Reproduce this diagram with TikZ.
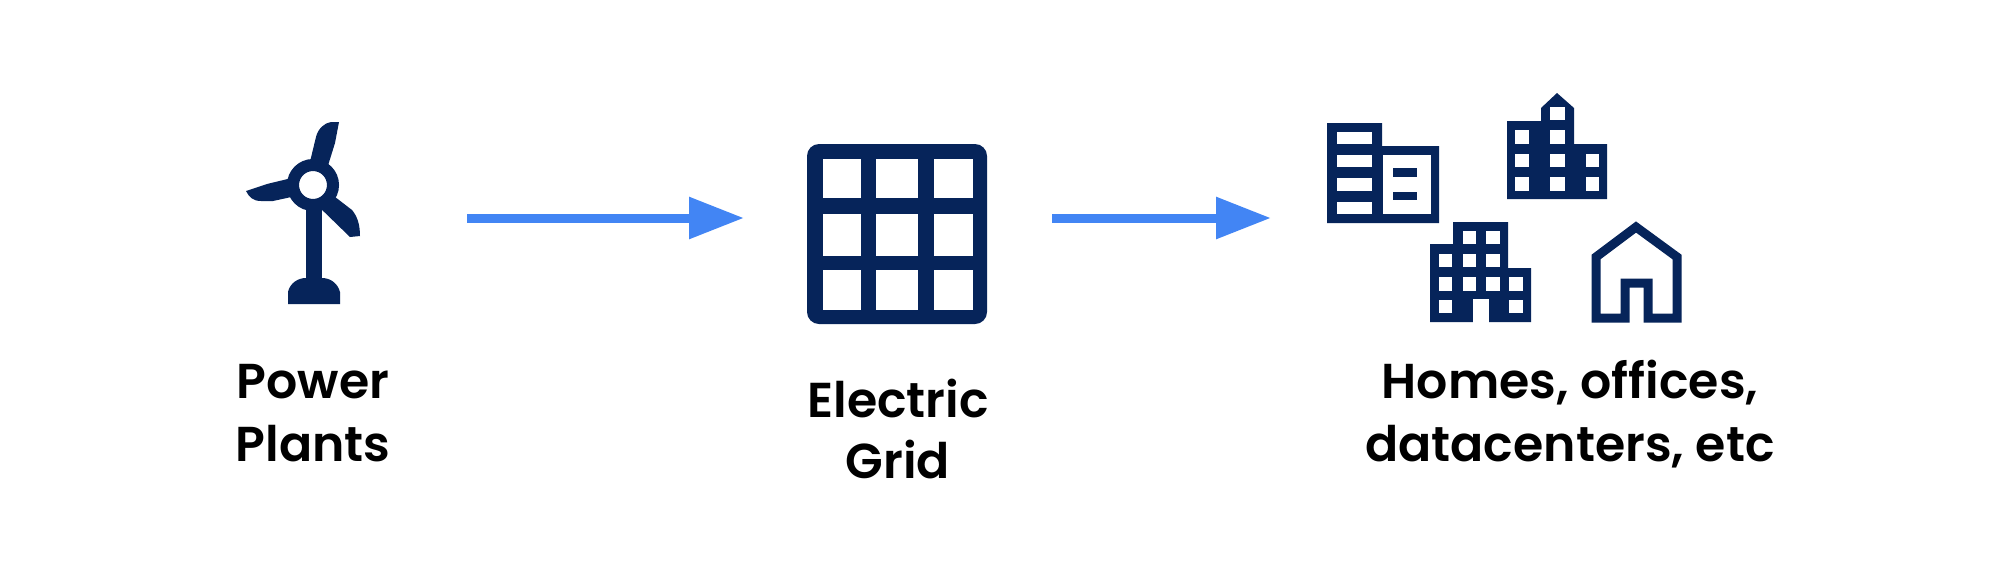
\documentclass[tikz,border=0pt]{standalone}
\usepackage{fontspec}
\setmainfont{Poppins SemiBold}
\usetikzlibrary{arrows.meta}
\definecolor{navy}{HTML}{06245A}
\definecolor{arrowblue}{HTML}{4285F4}
\tikzset{
  x=1pt,y=-1pt,
  flow/.style={draw=arrowblue,line width=9pt,-{Triangle[length=55pt,width=40pt]}},
  lab/.style={font=\fontsize{49}{63}\selectfont,text=black,align=center,inner sep=0pt,anchor=base},
  ln/.style={draw=navy,line width=9pt,line join=miter},
  hole/.style={fill=white}
}
\newcommand{\wnd}[4]{\fill[hole] (#1+0.6,#2+0.6) rectangle (#3-0.6,#4-0.6);}
\begin{document}
\begin{tikzpicture}
\useasboundingbox[fill=white] (0,0) rectangle (2000,574);
% Turbine
\coordinate (hub) at (313,185);
\fill[navy] (306,200) rectangle (322,292);
\fill[navy] (288,304) -- (288,292) .. controls (290,283) and (298,278) .. (306,278) -- (322,278) .. controls (331,278) and (338,284) .. (340,292) -- (340,304) -- cycle;
\fill[navy] (308,170) -- (316,137) .. controls (318,129) and (324,123) .. (331,122) -- (339,122) -- (335,143) -- (326,172) -- cycle;
\fill[navy] (296,177) -- (267,184) -- (246,191) .. controls (249,197) and (253,201) .. (261,201) -- (273,201) -- (296,196) -- cycle;
\fill[navy] (326,190) -- (352,210) .. controls (357,216) and (360,224) .. (360,236) -- (350,237) -- (316,204) -- cycle;
\draw[navy,line width=12pt,fill=white] (hub) circle (20);
% Grid
\fill[navy,rounded corners=12pt] (807,144) rectangle (987,324);
\foreach \xa/\xb in {822/862,875/919,933/974}
  \foreach \ya/\yb in {158/199,213/257,269/311}
    {\wnd{\xa}{\ya}{\xb}{\yb}}
% Office block
\fill[navy] (1327,123) -- (1382,123) -- (1382,146) -- (1439,146) -- (1439,223) -- (1327,223) -- cycle;
\wnd{1336}{131}{1373}{145}
\wnd{1336}{154}{1373}{168}
\wnd{1336}{177}{1373}{192}
\wnd{1336}{201}{1373}{215}
\wnd{1382}{154}{1432}{215}
\fill[navy] (1393,168) rectangle (1417,177);
\fill[navy] (1393,192) rectangle (1417,200);
% Tower with spire
\fill[navy] (1507,199) -- (1507,121) -- (1541,121) -- (1541,108) -- (1557,93) -- (1574,108) -- (1574,144) -- (1607,144) -- (1607,199) -- cycle;
\wnd{1549}{106}{1566}{121}
\foreach \ya/\yb in {129/145,153/168,176/192}{
  \wnd{1514}{\ya}{1530}{\yb}
  \wnd{1549}{\ya}{1566}{\yb}
}
\wnd{1585}{153}{1600}{168}
\wnd{1585}{176}{1600}{192}
% Apartment block
\fill[navy] (1430,322) -- (1430,244) -- (1453,244) -- (1453,222) -- (1508,222) -- (1508,268) -- (1531,268) -- (1531,322) -- cycle;
\wnd{1462}{230}{1477}{245}
\wnd{1485}{230}{1501}{245}
\wnd{1438}{253}{1453}{268}
\wnd{1462}{253}{1477}{268}
\wnd{1485}{253}{1501}{268}
\wnd{1438}{276}{1453}{292}
\wnd{1462}{276}{1477}{292}
\wnd{1485}{276}{1501}{292}
\wnd{1508}{276}{1524}{292}
\wnd{1438}{299}{1453}{314}
\wnd{1508}{299}{1524}{314}
\fill[hole] (1473,299) rectangle (1489,322.5);
% House
\draw[ln] (1596,318) -- (1596,257) -- (1636,227) -- (1677,257) -- (1677,318) -- (1648,318) -- (1648,283) -- (1625,283) -- (1625,318) -- cycle;
% Labels
\node[lab] (plants) at (313,398) {Power};
\node[lab] (plants2) at (313,461) {Plants};
\node[lab] (electric) at (898,417) {Electric};
\node[lab] (gridlab) at (898,478) {Grid};
\node[lab] (homes) at (1570,398) {Homes, offices,};
\node[lab] (homes2) at (1570,461) {datacenters, etc};
% Arrows
\coordinate (plantsout) at (467,218);
\coordinate (gridin) at (744,218);
\coordinate (gridout) at (1052,218);
\coordinate (homesin) at (1271,218);
\draw[flow] (plantsout) -- (gridin);
\draw[flow] (gridout) -- (homesin);
\end{tikzpicture}
\end{document}
